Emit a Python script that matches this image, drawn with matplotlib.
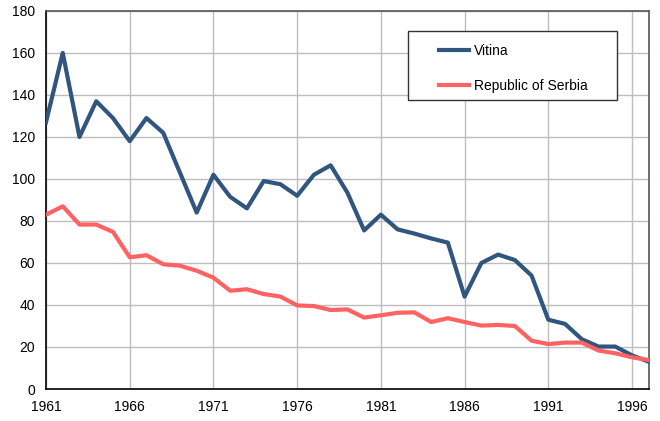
import matplotlib
matplotlib.use("Agg")
import matplotlib.pyplot as plt
from matplotlib.patches import Rectangle

plt.rcParams['font.family'] = ['Liberation Sans', 'DejaVu Sans']

years = list(range(1961, 1998))
vitina = [127, 160, 120, 137, 129, 118, 129, 122, 103, 84,
          102, 91.5, 86, 99, 97.5, 92, 102, 106.5, 93.5, 75.5,
          83, 76, 74, 71.7, 69.7, 44, 60, 64, 61.4, 54,
          33, 31, 23.7, 20.2, 20.2, 16, 13]
serbia = [83, 87, 78.3, 78.3, 74.8, 62.7, 63.7, 59.4, 58.7, 56.3,
          53, 46.8, 47.5, 45.2, 44, 39.8, 39.5, 37.6, 37.9, 34,
          35.1, 36.3, 36.5, 31.9, 33.7, 31.9, 30.2, 30.5, 30, 23,
          21.4, 22.1, 22.1, 18.3, 17, 15.1, 13.8]
xticks = list(range(1961, 1997, 5))
yticks = list(range(0, 181, 20))

fig = plt.figure(figsize=(6.6, 4.21), dpi=100)
ax = fig.add_axes([0.0697, 0.076, 0.9133, 0.898])

ax.plot(years, vitina, color='#30557f', lw=3, label='Vitina', zorder=3)
ax.plot(years, serbia, color='#ff6262', lw=3, label='Republic of Serbia', zorder=3)

ax.set_xlim(1961, 1997)
ax.set_ylim(0, 180)
ax.set_xticks(xticks)
ax.set_yticks(yticks)
ax.grid(True, color='#bdbdbd', lw=1)
ax.set_axisbelow(True)
ax.tick_params(length=0, labelsize=10)
ax.tick_params(axis='x', pad=8)
ax.tick_params(axis='y', pad=8)

for side in ['left', 'bottom']:
    ax.spines[side].set_color('black')
    ax.spines[side].set_linewidth(1.2)
for side in ['top', 'right']:
    ax.spines[side].set_color('#555555')
    ax.spines[side].set_linewidth(1.2)

# legend box drawn separately so the inner padding can be wider than tall
ax.add_patch(Rectangle((0.6003, 0.7646), 0.3467, 0.1824, transform=ax.transAxes,
                       facecolor='white', edgecolor='#333333', lw=1, zorder=5))
leg = ax.legend(loc='upper left', bbox_to_anchor=(0.652, 0.913),
                borderaxespad=0, borderpad=0, frameon=False, fontsize=10,
                labelspacing=1.5, handlelength=2.15, handletextpad=0.36)
leg.set_zorder(6)

fig.savefig('out.png', dpi=100)
